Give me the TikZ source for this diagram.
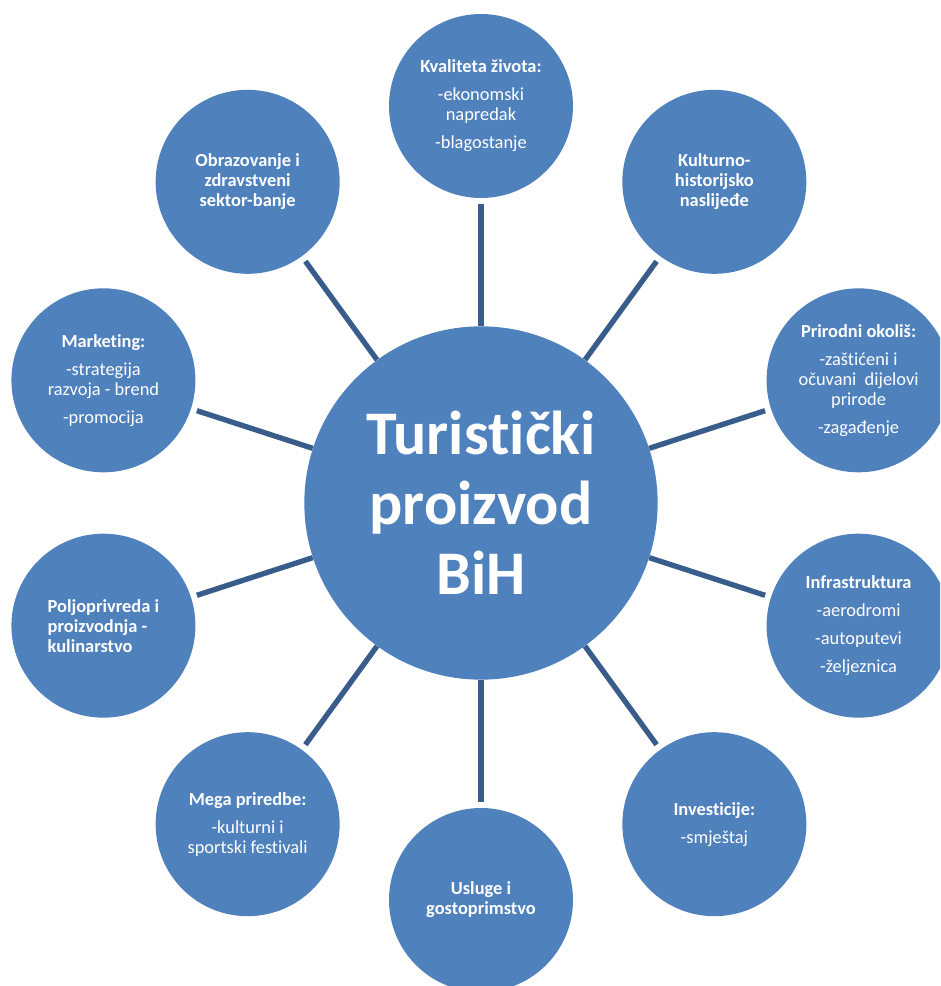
\documentclass[tikz,border=0pt]{standalone}
\usepackage{fontspec}
\setmainfont{Carlito}[Ligatures={NoCommon,NoContextual}]
\usetikzlibrary{positioning}
\definecolor{bubblefill}{RGB}{79,129,189}
\definecolor{spokeline}{RGB}{56,93,138}

\begin{document}
\begin{tikzpicture}[
  x=0.75pt, y=0.75pt,
  hub/.style={circle, fill=bubblefill, text=white, minimum size=265pt, inner sep=0pt, align=center, font=\fontsize{46.5}{52.5}\selectfont\bfseries},
  bubble/.style={circle, fill=bubblefill, text=white, minimum size=138pt, inner sep=0pt, align=center, font=\fontsize{13.8}{15}\selectfont},
  spoke/.style={draw=spokeline, line width=4pt, shorten >=4.5pt}
  ]
  \useasboundingbox (-481,-483) rectangle (459,503);
  \clip (-481,-483) rectangle (459,503);

  % ========== sredina ==========
  \node[hub] (hub) at (0,0) {Turist\kern0pt ički\\proizvod\\BiH};

  % ========== krugovi oko sredine ==========
  \node[bubble] (zivot) at (90:397) {\textbf{Kvaliteta života:}\\[6pt]-ekonomski\\napredak\\[6pt]-blagostanje};
  \node[bubble] (kultura) at (54:397) {\textbf{Kulturno-}\\\textbf{historijsko}\\\textbf{naslijeđe}};
  \node[bubble] (okolis) at (18:397) {\textbf{Prirodni okoliš:}\\[6pt]-zaštićeni i\\očuvani\ \ dijelovi\\prirode\\[6pt]-zagađenje};
  \node[bubble] (infra) at (-18:397) {\textbf{Infrastruktura}\\[6pt]-aerodromi\\[6pt]-autoputevi\\[6pt]-željeznica};
  \node[bubble] (invest) at (-54:397) {\textbf{Investicije:}\\[6pt]-smještaj};
  \node[bubble] (usluge) at (-90:397) {\textbf{Usluge i}\\\textbf{gostoprimstvo}};
  \node[bubble] (mega) at (-126:397) {\textbf{Mega priredbe:}\\[6pt]-kulturni i\\sportski festivali};
  \node[bubble, align=left] (poljo) at (-162:397) {\textbf{Poljoprivreda i}\\\textbf{proizvodnja -}\\\textbf{kulinarstvo}};
  \node[bubble] (market) at (162:397) {\textbf{Marketing:}\\[6pt]-strategija\\razvoja - brend\\[6pt]-promocija};
  \node[bubble] (obraz) at (126:397) {\textbf{Obrazovanje i}\\\textbf{zdravstveni}\\\textbf{sektor-banje}};

  \draw[spoke] (hub) -- (zivot); \draw[spoke] (hub) -- (kultura); \draw[spoke] (hub) -- (okolis);
  \draw[spoke] (hub) -- (infra); \draw[spoke] (hub) -- (invest); \draw[spoke] (hub) -- (usluge);
  \draw[spoke] (hub) -- (mega); \draw[spoke] (hub) -- (poljo); \draw[spoke] (hub) -- (market);
  \draw[spoke] (hub) -- (obraz);
\end{tikzpicture}
\end{document}
